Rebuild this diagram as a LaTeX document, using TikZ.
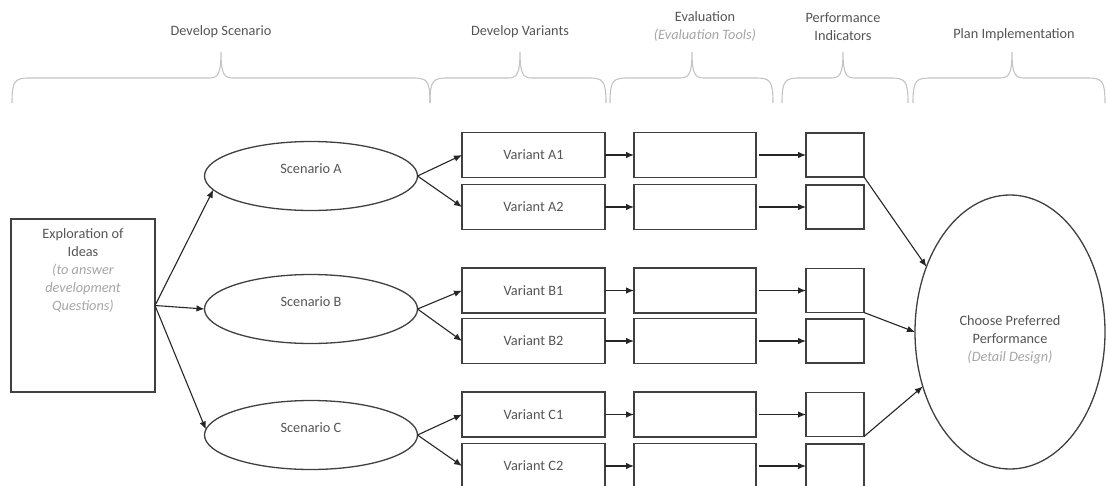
\documentclass[tikz,border=0pt]{standalone}
\usepackage{fontspec}
\setmainfont{Carlito}
\usetikzlibrary{shapes.geometric,arrows.meta}
\definecolor{txt}{HTML}{555555}
\definecolor{ital}{HTML}{A6A6A6}
\definecolor{brc}{HTML}{C4C4C4}
\definecolor{bord}{HTML}{404040}
\definecolor{conncol}{HTML}{262626}
\begin{document}
\begin{tikzpicture}[x=1pt,y=-1pt,
  every node/.style={font=\fontsize{14.3}{18}\selectfont, text=txt, inner sep=0pt, outer sep=0pt},
  boxnode/.style={draw=bord, line width=1.5pt, minimum height=45pt},
  varbox/.style={boxnode, minimum width=143pt},
  evalbox/.style={boxnode, minimum width=122pt},
  perfbox/.style={boxnode, minimum width=58pt, minimum height=44pt},
  scen/.style={draw=bord, line width=1.3pt, ellipse, minimum width=213pt, minimum height=69pt},
  conn/.style={draw=conncol, line width=1.1pt, -{Latex[length=8pt,width=6.5pt]}},
  bracecurve/.style={draw=brc, line width=1.1pt},
  hdr/.style={align=center},
  lbl/.style={align=center},
]
\fill[white] (0,0) rectangle (1106,485);
\useasboundingbox (0,0) rectangle (1106,485);

% braces
\foreach \a/\t/\b in {12/221/430, 430/520/606, 610/692/773, 782/843/908, 913/1012/1105}{
  \draw[bracecurve] (\a,103) .. controls (\a,80) and (\a+3,78) .. (\a+18,78)
    -- (\t-12,78) .. controls (\t-3,78) and (\t,74) .. (\t,52)
    .. controls (\t,74) and (\t+3,78) .. (\t+12,78)
    -- (\b-18,78) .. controls (\b-3,78) and (\b,80) .. (\b,103);
}

% headers
\node[hdr] (h1) at (221,32) {Develop Scenario};
\node[hdr] (h2) at (520,32) {Develop Variants};
\node[hdr] (h3) at (705,26.5) {Evaluation\\\textcolor{ital}{\itshape (Evaluation Tools)}};
\node[hdr] (h4) at (843,26.5) {Performance\\Indicators};
\node[hdr] (h5) at (1014,35) {Plan Implementation};

% exploration box
\node[draw=bord, line width=1.5pt, minimum width=144pt, minimum height=173pt,
  label={[lbl, yshift=34.5pt]center:Exploration of\\Ideas\\\textcolor{ital}{\itshape (to answer}\\\textcolor{ital}{\itshape development}\\\textcolor{ital}{\itshape Questions)}}] (expl) at (83,305.5) {};

% scenarios
\node[scen, label={[yshift=7pt]center:Scenario A}] (sA) at (311,176) {};
\node[scen, label={[yshift=7pt]center:Scenario B}] (sB) at (311,309) {};
\node[scen, label={[yshift=7pt]center:Scenario C}] (sC) at (311,435) {};

% variants, evaluation, performance
\foreach \n/\y in {A1/155, A2/207, B1/290.5, B2/341, C1/414.5, C2/466}{
  \node[varbox] (v\n) at (533.5,\y) {Variant \n};
  \node[evalbox] (e\n) at (695,\y) {};
  \node[perfbox] (p\n) at (835,\y) {};
  \draw[conn] (v\n.east) -- (e\n.west);
  \draw[conn, shorten <=3pt] (e\n.east) -- (p\n.west);
}

% big ellipse
\node[ellipse, draw=bord, line width=1.3pt, minimum width=190pt, minimum height=274pt,
  label={[lbl, yshift=-8pt]center:Choose Preferred\\Performance\\\textcolor{ital}{\itshape (Detail Design)}}] (big) at (1010,332) {};

% connectors
\draw[conn] (expl.east) -- (sA.188);
\draw[conn] (expl.east) -- (sB.west);
\draw[conn] (expl.east) -- (sC.177);
\foreach \s in {A,B,C}{
  \draw[conn] (s\s.east) -- (v\s1.west);
  \draw[conn] (s\s.east) -- (v\s2.west);
}
\draw[conn] (pA1.south east) -- (big.142);
\draw[conn] (pB1.south east) -- (big.180);
\draw[conn] (pC1.south east) -- (big.212);
\end{tikzpicture}
\end{document}
